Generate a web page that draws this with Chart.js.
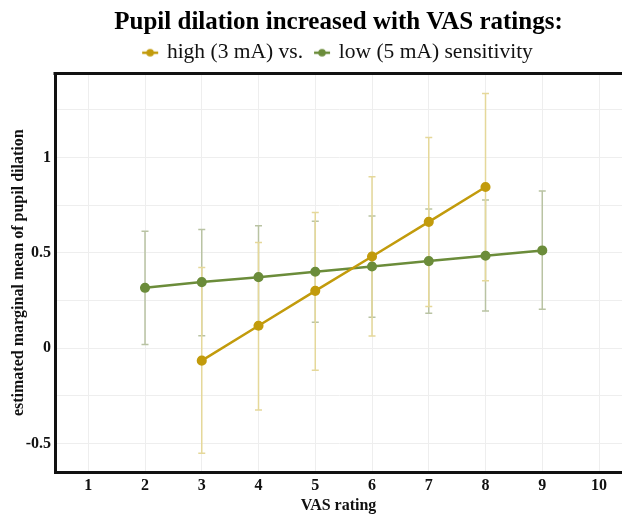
<!DOCTYPE html>
<html>
<head>
<meta charset="utf-8">
<script src="https://cdn.jsdelivr.net/npm/chart.js@4/dist/chart.umd.min.js"></script>
<style>
  html, body { margin: 0; padding: 0; background: #fff; }
  #wrap { width: 622px; height: 515px; }
</style>
</head>
<body>
<div id="wrap"><canvas id="pupil-chart"></canvas></div>
<script>
// VAS ratings and estimated marginal means per stimulation intensity
var vasHigh = [3, 4, 5, 6, 7, 8];
var meanHigh = [-0.066, 0.117, 0.30, 0.48, 0.662, 0.845];
var lowerHigh = [-0.552, -0.325, -0.117, 0.063, 0.218, 0.353];
var upperHigh = [0.423, 0.554, 0.711, 0.898, 1.104, 1.335];

var vasLow = [2, 3, 4, 5, 6, 7, 8, 9];
var meanLow = [0.316, 0.346, 0.372, 0.40, 0.428, 0.456, 0.484, 0.512];
var lowerLow = [0.019, 0.065, 0.10, 0.136, 0.161, 0.182, 0.194, 0.203];
var upperLow = [0.613, 0.622, 0.641, 0.665, 0.693, 0.730, 0.776, 0.824];

var xTicks = [1, 2, 3, 4, 5, 6, 7, 8, 9, 10];
var yLabelTicks = [-0.5, 0, 0.5, 1];

var colHigh = "#c29b0c";
var colLow = "#6b8c3a";
var errHigh = "#e5d89a";
var errLow = "#b9c3a3";
var serif = "'Liberation Serif', 'Times New Roman', serif";

function toPoints(xs, ys) {
    return xs.map(function (x, i) { return { x: x, y: ys[i] }; });
}

// small line-with-dot swatch used in the legend
function legendSwatch(color) {
    var c = document.createElement("canvas");
    c.width = 18;
    c.height = 10;
    var g = c.getContext("2d");
    g.strokeStyle = color;
    g.lineWidth = 2.5;
    g.beginPath();
    g.moveTo(1, 5);
    g.lineTo(17, 5);
    g.stroke();
    g.fillStyle = color;
    g.beginPath();
    g.arc(9, 5, 3.8, 0, Math.PI * 2);
    g.fill();
    return c;
}

// vertical error bars with caps, drawn under the lines
var errorBars = {
    id: "errorBars",
    beforeDatasetsDraw: function (chart) {
        var ctx = chart.ctx;
        var xs = chart.scales.x, ys = chart.scales.y;
        var sets = [
            { x: vasLow, lo: lowerLow, hi: upperLow, color: errLow },
            { x: vasHigh, lo: lowerHigh, hi: upperHigh, color: errHigh }
        ];
        ctx.save();
        ctx.lineWidth = 1.5;
        sets.forEach(function (s) {
            ctx.strokeStyle = s.color;
            s.x.forEach(function (v, i) {
                var px = xs.getPixelForValue(v);
                var top = ys.getPixelForValue(s.hi[i]);
                var bot = ys.getPixelForValue(s.lo[i]);
                ctx.beginPath();
                ctx.moveTo(px, top);
                ctx.lineTo(px, bot);
                ctx.moveTo(px - 3.5, top);
                ctx.lineTo(px + 3.5, top);
                ctx.moveTo(px - 3.5, bot);
                ctx.lineTo(px + 3.5, bot);
                ctx.stroke();
            });
        });
        ctx.restore();
    }
};

// heavy frame line along the top of the plot
var topFrame = {
    id: "topFrame",
    afterDraw: function (chart) {
        var a = chart.chartArea, ctx = chart.ctx;
        ctx.save();
        ctx.strokeStyle = "#111";
        ctx.lineWidth = 3;
        ctx.beginPath();
        ctx.moveTo(a.left - 1.5, a.top);
        ctx.lineTo(a.right, a.top);
        ctx.stroke();
        ctx.restore();
    }
};

var ctx = document.getElementById("pupil-chart").getContext("2d");
var chart = new Chart(ctx, {
    type: "line",
    data: {
        datasets: [
            {
                label: "high (3 mA) vs.",
                data: toPoints(vasHigh, meanHigh),
                borderColor: colHigh,
                backgroundColor: colHigh,
                borderWidth: 2.5,
                pointRadius: 3.8,
                pointHoverRadius: 3.8,
                fill: false
            },
            {
                label: "low (5 mA) sensitivity",
                data: toPoints(vasLow, meanLow),
                borderColor: colLow,
                backgroundColor: colLow,
                borderWidth: 2.5,
                pointRadius: 3.8,
                pointHoverRadius: 3.8,
                fill: false
            }
        ]
    },
    plugins: [errorBars, topFrame],
    options: {
        responsive: true,
        maintainAspectRatio: false,
        animation: false,
        layout: { autoPadding: false, padding: { left: 0, right: 0, top: 8, bottom: 0 } },
        plugins: {
            tooltip: { enabled: false },
            title: {
                display: true,
                fullSize: false,
                text: "Pupil dilation increased with VAS ratings:",
                color: "#000",
                font: { family: serif, size: 25, weight: "bold" },
                padding: { top: 0, bottom: -9 }
            },
            legend: {
                display: true,
                fullSize: false,
                labels: {
                    usePointStyle: true,
                    pointStyleWidth: 12,
                    boxHeight: 10,
                    color: "#111",
                    padding: 13,
                    font: { family: serif, size: 21.5 },
                    generateLabels: function (c) {
                        var items = Chart.defaults.plugins.legend.labels.generateLabels(c);
                        items.forEach(function (it, i) {
                            it.pointStyle = legendSwatch(i === 0 ? colHigh : colLow);
                        });
                        return items;
                    }
                }
            }
        },
        scales: {
            x: {
                type: "linear",
                min: 0.414,
                max: 10.405,
                afterBuildTicks: function (axis) {
                    axis.ticks = xTicks.map(function (v) { return { value: v }; });
                },
                afterFit: function (axis) {
                    axis.height = 43;
                    axis.paddingLeft = 0;
                    axis.paddingRight = 0;
                },
                grid: { color: "#eeeeee", drawTicks: false },
                border: { display: true, color: "#111", width: 3 },
                ticks: {
                    color: "#111",
                    padding: 4,
                    font: { family: serif, size: 16, weight: "bold" }
                },
                title: {
                    display: true,
                    text: "VAS rating",
                    color: "#111",
                    padding: { top: 0, bottom: 0 },
                    font: { family: serif, size: 16, weight: "bold" }
                }
            },
            y: {
                type: "linear",
                min: -0.65,
                max: 1.44,
                afterFit: function (axis) {
                    axis.width = 55;
                    axis.paddingTop = 0;
                    axis.paddingBottom = 0;
                },
                grid: { color: "#eeeeee", drawTicks: false },
                border: { display: true, color: "#111", width: 3 },
                ticks: {
                    stepSize: 0.25,
                    includeBounds: false,
                    color: "#111",
                    padding: 4,
                    font: { family: serif, size: 16, weight: "bold" },
                    callback: function (v) {
                        return yLabelTicks.indexOf(v) >= 0 ? String(v) : "";
                    }
                },
                title: {
                    display: true,
                    text: "estimated marginal mean of pupil dilation",
                    color: "#111",
                    padding: { top: 9, bottom: 0 },
                    font: { family: serif, size: 16, weight: "bold" }
                }
            }
        }
    }
});
</script>
</body>
</html>
